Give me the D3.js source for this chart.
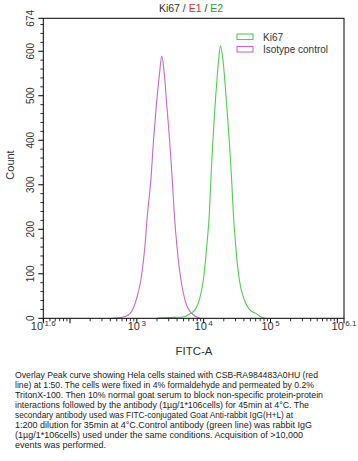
<!DOCTYPE html>
<html>
<head>
<meta charset="utf-8">
<script src="https://cdn.jsdelivr.net/npm/d3@7"></script>
<style>
  html, body { margin: 0; padding: 0; background: #fff; }
  svg { display: block; font-family: "Liberation Sans", Arial, sans-serif; }
</style>
</head>
<body>
<svg id="chart" width="358" height="461"></svg>
<script>
// ---- data (x as log10 of FITC-A, y as count) ----
const isoLog   = [2.62, 2.72, 2.82, 2.90, 2.99, 3.06, 3.12, 3.16, 3.21, 3.25, 3.29, 3.34, 3.372, 3.41, 3.45, 3.49, 3.53, 3.56, 3.60, 3.66, 3.72, 3.82, 3.95];
const isoCount = [0,    1,    4,    11,   41,   86,   161,  236,  311,  401,  475,  551,  589,   551,  475,  401,  311,  236,  161,  86,   41,   11,   0];
const kiLog    = [3.30, 3.35, 3.57, 3.69, 3.80, 3.87, 3.935, 3.995, 4.046, 4.085, 4.11, 4.18, 4.22, 4.25, 4.294, 4.335, 4.416, 4.444, 4.48, 4.534, 4.61, 4.69, 4.78, 4.86, 4.92];
const kiCount  = [0,    1,    2,    3,    11,   19,   41,    86,    161,   236,   318,  498,  573,  612,  573,   498,   318,   236,   161,  86,    41,   19,   11,   3,    0];
const xTickExp    = [1.6, 3, 4, 5, 6.1];
const xTickLabels = ["1.6", "3", "4", "5", "6.1"];
const yTicks      = [0, 100, 200, 300, 400, 500, 600, 674];
const legendNames = ["Ki67", "Isotype control"];
const titleParts  = [["Ki67 / ", "#333"], ["E1", "#cc3333"], [" / ", "#333"], ["E2", "#339933"]];
const captionLines = [
  "Overlay Peak curve showing Hela cells stained with CSB-RA984483A0HU (red",
  "line) at 1:50. The cells were fixed in 4% formaldehyde and permeated by 0.2%",
  "TritonX-100. Then 10% normal goat serum to block non-specific protein-protein",
  "interactions followed by the antibody (1µg/1*106cells) for 45min at 4°C. The",
  "secondary antibody used was FITC-conjugated Goat Anti-rabbit IgG(H+L) at",
  "1:200 dilution for 35min at 4°C.Control antibody (green line) was rabbit IgG",
  "(1µg/1*106cells) used under the same conditions. Acquisition of >10,000",
  "events was performed."
];
const captionWidths = [303, 299, 308, 294, 278, 297, 288, 91];

// ---- layout ----
const L = 43.3, R = 344, T = 18.3, B = 318.3;
const GREEN = "#4fcf4f", MAGENTA = "#cc66cc";
const svg = d3.select("#chart");

const x = d3.scaleLog().domain([Math.pow(10, 1.6), Math.pow(10, 6.1)]).range([L, R]);
const y = d3.scaleLinear().domain([0, 674]).range([B, T]);

// title
const title = svg.append("text").attr("x", 191).attr("y", 11.5)
  .attr("text-anchor", "middle").attr("font-size", 10.5);
titleParts.forEach(([t, c]) => title.append("tspan").attr("fill", c).text(t));

// y minor ticks
const yMinor = d3.range(0, 674, 20).filter(v => v % 100 !== 0);
svg.append("g").selectAll("line").data(yMinor).join("line")
  .attr("x1", L - 3).attr("x2", L).attr("y1", d => y(d)).attr("y2", d => y(d))
  .attr("stroke", "#000").attr("stroke-width", 0.8);
svg.append("g").selectAll("line").data(yTicks).join("line")
  .attr("x1", L - 5).attr("x2", L).attr("y1", d => y(d)).attr("y2", d => y(d))
  .attr("stroke", "#000").attr("stroke-width", 1);
svg.append("g").selectAll("text").data(yTicks).join("text")
  .attr("transform", d => `translate(34,${y(d)}) rotate(-90)`)
  .attr("text-anchor", "middle").attr("font-size", 10).attr("fill", "#333")
  .text(d => d);

// x ticks
const xMinor = [];
for (let e = 1; e <= 6; e++) for (let k = 2; k <= 9; k++) {
  const v = k * Math.pow(10, e);
  if (v >= x.domain()[0] && v <= x.domain()[1]) xMinor.push(v);
}
const xMajor = [Math.pow(10, 1.6), 1e2, 1e3, 1e4, 1e5, 1e6, Math.pow(10, 6.1)];
svg.append("g").selectAll("line").data(xMinor).join("line")
  .attr("x1", d => x(d)).attr("x2", d => x(d)).attr("y1", B).attr("y2", B + 3)
  .attr("stroke", "#000").attr("stroke-width", 0.8);
svg.append("g").selectAll("line").data(xMajor).join("line")
  .attr("x1", d => x(d)).attr("x2", d => x(d)).attr("y1", B).attr("y2", B + 5)
  .attr("stroke", "#000").attr("stroke-width", 1);
const xl = svg.append("g").selectAll("text").data(xTickExp).join("text")
  .attr("x", d => x(Math.pow(10, d))).attr("y", 330)
  .attr("text-anchor", "middle").attr("font-size", 11).attr("fill", "#333");
xl.append("tspan").text("10");
xl.append("tspan").attr("dy", -4.5).attr("font-size", 8).attr("dx", 1.5).text((d, i) => xTickLabels[i]);

// axis labels
svg.append("text").attr("x", 194).attr("y", 355).attr("text-anchor", "middle")
  .attr("font-size", 11.5).attr("fill", "#333").text("FITC-A");
svg.append("text").attr("transform", "translate(14,165) rotate(-90)").attr("text-anchor", "middle")
  .attr("font-size", 11).attr("fill", "#333").text("Count");

// curves
const line = d3.line().x(d => x(Math.pow(10, d[0]))).y(d => y(d[1])).curve(d3.curveMonotoneX);
svg.append("path").datum(isoLog.map((v, i) => [v, isoCount[i]]))
  .attr("d", line).attr("fill", "none").attr("stroke", MAGENTA).attr("stroke-width", 1.1);
svg.append("path").datum(kiLog.map((v, i) => [v, kiCount[i]]))
  .attr("d", line).attr("fill", "none").attr("stroke", GREEN).attr("stroke-width", 1.1);

// frame
svg.append("rect").attr("x", L).attr("y", T).attr("width", R - L).attr("height", B - T)
  .attr("fill", "none").attr("stroke", "#000").attr("stroke-width", 1);

// legend
const lg = svg.append("g").selectAll("g").data(legendNames).join("g")
  .attr("transform", (d, i) => `translate(237,${34 + i * 12.5})`);
lg.append("rect").attr("width", 16).attr("height", 5.5).attr("fill", "#fff")
  .attr("stroke", (d, i) => i === 0 ? GREEN : MAGENTA).attr("stroke-width", 1.1);
lg.append("text").attr("x", 26).attr("y", 6.5).attr("font-size", 10).attr("fill", "#333").text(d => d);

// caption
svg.append("g").selectAll("text").data(captionLines).join("text")
  .attr("x", 15).attr("y", (d, i) => 378 + i * 10)
  .attr("font-size", 9.5).attr("fill", "#222")
  .attr("textLength", (d, i) => captionWidths[i]).attr("lengthAdjust", "spacingAndGlyphs")
  .text(d => d);
</script>
</body>
</html>
